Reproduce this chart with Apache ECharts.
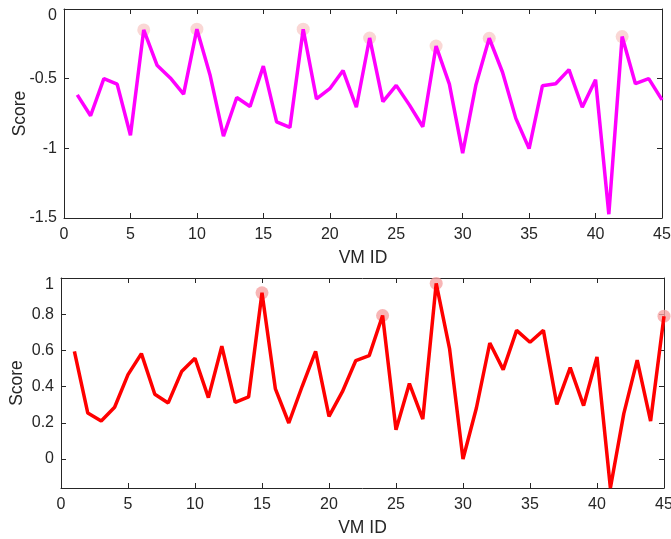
<!DOCTYPE html>
<html>
<head>
<meta charset="utf-8">
<script src="https://cdn.jsdelivr.net/npm/echarts@6/dist/echarts.min.js"></script>
<style>
  html, body { margin: 0; padding: 0; background: #fff; }
  #chart { width: 671px; height: 539px; }
</style>
</head>
<body>
<div id="chart"></div>
<script>
// VM ids 1..45
const vmIds = Array.from({ length: 45 }, (_, i) => i + 1);

const topScores = [
  -0.616, -0.766, -0.500, -0.539, -0.906, -0.150, -0.403, -0.495, -0.611, -0.145,
  -0.478, -0.913, -0.635, -0.700, -0.410, -0.810, -0.850, -0.145, -0.645, -0.572,
  -0.442, -0.705, -0.208, -0.664, -0.548, -0.690, -0.845, -0.266, -0.539, -1.034,
  -0.543, -0.210, -0.454, -0.785, -1.002, -0.551, -0.536, -0.435, -0.705, -0.507,
  -1.473, -0.198, -0.536, -0.500, -0.652
];
const bottomScores = [
  0.595, 0.254, 0.210, 0.286, 0.466, 0.582, 0.358, 0.310, 0.483, 0.557,
  0.339, 0.623, 0.313, 0.343, 0.918, 0.387, 0.199, 0.402, 0.595, 0.236,
  0.372, 0.544, 0.571, 0.793, 0.162, 0.417, 0.221, 0.970, 0.608, 0.000,
  0.282, 0.641, 0.494, 0.711, 0.645, 0.711, 0.302, 0.505, 0.295, 0.564,
  -0.160, 0.251, 0.546, 0.210, 0.789
];

// highlighted VM ids
const topPeaks = [6, 10, 18, 23, 28, 32, 42];
const bottomPeaks = [15, 24, 28, 45];

const topYTicks = [-1.5, -1, -0.5, 0];
const bottomYTicks = [0, 0.2, 0.4, 0.6, 0.8, 1];

const axisColor = '#262626';
const font = 'Liberation Sans, Arial, sans-serif';

function xAxisFor(gridIndex, showLabels) {
  return {
    gridIndex,
    type: 'value',
    min: 0, max: 45, interval: 5,
    position: showLabels ? 'bottom' : 'top',
    name: showLabels ? 'VM ID' : '',
    nameLocation: 'middle',
    nameGap: 31,
    nameMoveOverlap: false,
    nameTextStyle: { color: axisColor, fontSize: 17.5, fontFamily: font },
    axisLine: { show: true, onZero: false, lineStyle: { color: axisColor, width: 1 } },
    axisTick: { show: true, inside: true, length: 5, lineStyle: { color: axisColor } },
    axisLabel: { show: showLabels, color: axisColor, fontSize: 16, fontFamily: font, margin: 9 },
    splitLine: { show: false }
  };
}

function yAxisFor(gridIndex, min, max, ticks, showLabels) {
  return {
    gridIndex,
    type: 'value',
    min, max,
    position: showLabels ? 'left' : 'right',
    name: showLabels ? 'Score' : '',
    nameLocation: 'middle',
    nameGap: 35,
    nameMoveOverlap: false,
    nameTextStyle: { color: axisColor, fontSize: 17.5, fontFamily: font },
    axisLine: { show: true, onZero: false, lineStyle: { color: axisColor, width: 1 } },
    axisTick: { show: true, inside: true, length: 5, customValues: ticks, lineStyle: { color: axisColor } },
    axisLabel: {
      show: showLabels, customValues: ticks, color: axisColor, fontSize: 16, fontFamily: font, margin: 7,
      // the label at the top edge sits a little lower, as in the reference
      formatter: v => (v === max ? '{edge|' + v + '}' : String(v)),
      rich: { edge: { fontSize: 16, fontFamily: font, color: axisColor, padding: [13, 0, 0, 0] } }
    },
    splitLine: { show: false }
  };
}

const topLine = vmIds.map((id, i) => [id, topScores[i]]);
const bottomLine = vmIds.map((id, i) => [id, bottomScores[i]]);
const topMarks = topPeaks.map(id => [id, topScores[id - 1]]);
const bottomMarks = bottomPeaks.map(id => [id, bottomScores[id - 1]]);

const chart = echarts.init(document.getElementById('chart'), null, { renderer: 'canvas' });
chart.setOption({
  animation: false,
  backgroundColor: '#fff',
  grid: [
    { left: 64, top: 9, width: 598, height: 209, outerBoundsMode: 'none', containLabel: false },
    { left: 61, top: 278, width: 603, height: 210, outerBoundsMode: 'none', containLabel: false }
  ],
  xAxis: [
    xAxisFor(0, true), xAxisFor(0, false),
    xAxisFor(1, true), xAxisFor(1, false)
  ],
  yAxis: [
    yAxisFor(0, -1.5, 0, topYTicks, true), yAxisFor(0, -1.5, 0, topYTicks, false),
    yAxisFor(1, -0.16, 1, bottomYTicks, true), yAxisFor(1, -0.16, 1, bottomYTicks, false)
  ],
  series: [
    {
      type: 'scatter', xAxisIndex: 0, yAxisIndex: 0, data: topMarks,
      symbolSize: 13, z: 1, silent: true,
      itemStyle: { color: '#f9cdcb' }
    },
    {
      type: 'line', xAxisIndex: 0, yAxisIndex: 0, data: topLine,
      showSymbol: false, z: 2, lineStyle: { color: '#ff00ff', width: 3.5 }
    },
    {
      type: 'scatter', xAxisIndex: 2, yAxisIndex: 2, data: bottomMarks,
      symbolSize: 13, z: 1, silent: true,
      itemStyle: { color: '#f6a3a3' }
    },
    {
      type: 'line', xAxisIndex: 2, yAxisIndex: 2, data: bottomLine,
      showSymbol: false, z: 2, lineStyle: { color: '#ff0000', width: 3.5 }
    }
  ]
});
</script>
</body>
</html>
